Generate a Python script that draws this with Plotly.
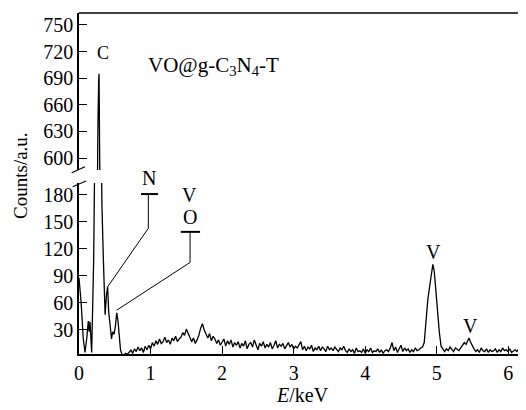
import plotly.graph_objects as go

# ---- data ----
ENERGY_KEV = [
    0.000, 0.030, 0.060, 0.084, 0.110, 0.130, 0.142, 0.154, 0.177,
    0.190, 0.205, 0.230, 0.250, 0.265, 0.275, 0.280, 0.290, 0.305, 0.320, 0.340, 0.355, 0.365,
    0.385, 0.400, 0.415, 0.435, 0.455, 0.470, 0.490, 0.510, 0.527, 0.545, 0.560, 0.580,
    0.600, 0.625, 0.650, 0.675, 0.700,
    0.725, 0.750, 0.775, 0.800, 0.825, 0.850, 0.875, 0.900, 0.925, 0.950, 0.975, 1.000,
    1.025, 1.050, 1.075, 1.100, 1.125, 1.150, 1.175, 1.200, 1.225, 1.250, 1.275, 1.300, 1.325, 1.350, 1.375, 1.400,
    1.425, 1.450, 1.475, 1.500, 1.525, 1.550, 1.575, 1.600, 1.625, 1.650, 1.675, 1.700, 1.725, 1.750,
    1.775, 1.800, 1.825, 1.850, 1.875, 1.900,
    1.925, 1.950, 1.975, 2.000, 2.025, 2.050, 2.075, 2.100, 2.125, 2.150, 2.175, 2.200,
    2.225, 2.250, 2.275, 2.300, 2.325, 2.350, 2.375, 2.400, 2.425, 2.450, 2.475, 2.500, 2.525, 2.550, 2.575,
    2.600, 2.625, 2.650, 2.675, 2.700, 2.725, 2.750, 2.775, 2.800, 2.825, 2.850, 2.875, 2.900, 2.925, 2.950,
    2.975, 3.000, 3.025, 3.050, 3.075, 3.100,
    3.125, 3.150, 3.175, 3.200, 3.225, 3.250, 3.275, 3.300, 3.325, 3.350, 3.375, 3.400,
    3.425, 3.450, 3.475, 3.500, 3.525, 3.550, 3.575, 3.600, 3.625, 3.650, 3.675, 3.700,
    3.725, 3.750, 3.775, 3.800, 3.825, 3.850, 3.875, 3.900, 3.925, 3.950, 3.975, 4.000,
    4.025, 4.050, 4.075, 4.100, 4.125, 4.150, 4.175, 4.200, 4.225, 4.250, 4.275,
    4.300, 4.325, 4.350, 4.375, 4.400, 4.425, 4.450, 4.475, 4.500, 4.525, 4.550, 4.575,
    4.600, 4.625, 4.650, 4.675, 4.700, 4.725, 4.750, 4.775,
    4.800, 4.825, 4.850, 4.875, 4.900, 4.925, 4.945, 4.965, 4.985, 5.010, 5.035, 5.060, 5.085,
    5.110, 5.135, 5.160, 5.185, 5.210, 5.235, 5.260, 5.285, 5.310, 5.335,
    5.360, 5.385, 5.410, 5.435, 5.450, 5.470, 5.495,
    5.520, 5.545, 5.570, 5.595, 5.620, 5.645, 5.670, 5.695, 5.720, 5.745, 5.770, 5.795, 5.820, 5.845, 5.870,
    5.895, 5.920, 5.945, 5.970, 5.995, 6.020, 6.045, 6.070, 6.095, 6.120, 6.145, 6.170, 6.195, 6.220, 6.245,
]
COUNTS = [
    88, 60, 20, 5, 22, 40, 28, 39, 5,
    60, 108, 300, 560, 640, 688, 695, 590, 300, 170, 110, 70, 47,
    70, 78, 50, 30, 20, 28, 25, 35, 49, 40, 25, 8,
    3, 2, 4, 3, 5,
    8, 4, 9, 6, 11, 7, 10, 5, 12, 8, 13, 9,
    16, 12, 18, 14, 20, 15, 17, 22, 16, 19, 14, 21, 18, 23, 17, 20,
    22, 27, 24, 31, 26, 20, 17, 21, 15, 19, 24, 32, 37, 30,
    25, 21, 26, 18, 23, 20,
    15, 19, 13, 17, 20, 12, 18, 14, 19, 11, 16, 13,
    17, 10, 15, 12, 18, 9, 14, 16, 11, 19, 13, 8, 15, 12, 17,
    10, 14, 11, 16, 9, 13, 18, 10, 14, 12, 15, 9, 13, 16, 11,
    14, 9, 12, 10, 13, 17,
    8, 12, 7, 11, 9, 13, 6, 10, 8, 12, 7, 11,
    9, 6, 12, 8, 10, 7, 11, 9, 6, 10, 8, 12,
    7, 5, 9, 6, 8, 4, 10, 6, 7, 5, 9, 4,
    8, 6, 10, 5, 7, 6, 9, 5, 8, 4, 7,
    8, 6, 10, 16, 7, 11, 5, 9, 13, 6, 10, 7,
    9, 5, 8, 6, 10, 7, 8, 10,
    11, 16, 45, 64, 78, 96, 103, 95, 72, 52, 28, 12, 9,
    6, 9, 7, 11, 8, 6, 10, 8, 7, 10,
    13, 16, 14, 19, 21, 17, 12,
    9, 6, 8, 5, 10, 7, 6, 9, 5, 8, 6, 7, 9, 5, 8,
    6, 10, 7, 8, 6, 9, 5, 7, 8, 6, 9, 7, 8, 10, 7,
]

X_TICKS = [0, 1, 2, 3, 4, 5, 6]
Y_TICKS_LOW = [30, 60, 90, 120, 150, 180]
Y_TICKS_HIGH = [600, 630, 660, 690, 720, 750]
X_RANGE = [0, 6.247]
Y_RANGE_LOW = [3.3, 193.3]
Y_RANGE_HIGH = [586.5, 763.5]

# peak labels in data coordinates: (text, energy, counts, panel, size)
PEAK_LABELS = [
    ("C", 0.336, 718, "high", 18),
    ("VO@g-C<sub>3</sub>N<sub>4</sub>-T", 1.881, 704, "high", 21),
    ("V", 4.958, 117, "low", 20),
    ("V", 5.468, 34, "low", 20),
]
# labels placed in paper coordinates (above the lower panel's range)
PAPER_LABELS = [
    ("N", 0.1577, 0.5161),
    ("V", 0.2461, 0.4663),
    ("O", 0.2483, 0.4003),
]
# leader lines (energy, counts) polylines in the lower panel
LEADER_N = [(0.969, 181), (0.969, 143), (0.401, 78)]
BAR_N = [(0.867, 181), (1.105, 181)]
LEADER_O = [(1.552, 139), (1.552, 105), (0.527, 52)]
BAR_O = [(1.422, 139), (1.692, 139)]

FONT = "Liberation Serif"
BLACK = "#000000"

fig = go.Figure()
for xa, ya in (("x", "y"), ("x2", "y2")):
    fig.add_trace(go.Scatter(
        x=ENERGY_KEV, y=COUNTS, mode="lines", xaxis=xa, yaxis=ya,
        line=dict(color=BLACK, width=1.3), showlegend=False, hoverinfo="skip",
    ))

for pts, w in ((LEADER_N, 1), (LEADER_O, 1), (BAR_N, 2), (BAR_O, 2)):
    fig.add_trace(go.Scatter(
        x=[p[0] for p in pts], y=[p[1] for p in pts], mode="lines", xaxis="x", yaxis="y",
        line=dict(color=BLACK, width=w), showlegend=False, hoverinfo="skip",
    ))

LOW_DOM = [0, 0.5015]
HIGH_DOM = [0.5396, 1]

axis_common = dict(
    showgrid=False, zeroline=False, showline=True, linecolor=BLACK, linewidth=1.5,
    ticks="inside", ticklen=8, tickwidth=1.2, tickcolor=BLACK, automargin=False,
    tickfont=dict(family=FONT, size=20, color=BLACK),
)
# the page body adds an 8px offset, so the figure is 8px smaller on each side
fig.update_layout(
    width=518, height=402,
    margin=dict(l=71, r=0, t=5, b=56),
    paper_bgcolor="white", plot_bgcolor="white",
    xaxis=dict(axis_common, range=X_RANGE, tickvals=X_TICKS, anchor="y"),
    xaxis2=dict(range=X_RANGE, anchor="y2", matches="x", visible=False),
    yaxis=dict(axis_common, range=Y_RANGE_LOW, tickvals=Y_TICKS_LOW, domain=LOW_DOM, anchor="x"),
    yaxis2=dict(axis_common, range=Y_RANGE_HIGH, tickvals=Y_TICKS_HIGH, domain=HIGH_DOM, anchor="x2"),
)

anns = []
for text, ex, cy, panel, size in PEAK_LABELS:
    anns.append(dict(
        text=text, x=ex, y=cy, xref="x" if panel == "low" else "x2",
        yref="y" if panel == "low" else "y2", showarrow=False,
        font=dict(family=FONT, size=size, color=BLACK),
        xanchor="center", yanchor="middle",
    ))
for text, px, py in PAPER_LABELS:
    anns.append(dict(
        text=text, x=px, y=py, xref="paper", yref="paper", showarrow=False,
        font=dict(family=FONT, size=20, color=BLACK), xanchor="center", yanchor="middle",
    ))
anns.append(dict(
    text="Counts/a.u.", x=-0.1298, y=0.525, xref="paper", yref="paper",
    showarrow=False, textangle=-90, font=dict(family=FONT, size=19, color=BLACK),
    xanchor="center", yanchor="middle",
))
anns.append(dict(
    text="<i>E</i>/keV", x=0.5, y=-0.1202, xref="paper", yref="paper",
    showarrow=False, font=dict(family=FONT, size=20, color=BLACK),
    xanchor="center", yanchor="middle",
))
fig.update_layout(annotations=anns)

shapes = [
    dict(type="line", xref="paper", yref="paper", x0=0, x1=1, y0=1, y1=1,
         line=dict(color=BLACK, width=1.5)),
    dict(type="line", xref="paper", yref="paper", x0=-0.0163, x1=0.0134, y0=0.5317, y1=0.5493,
         line=dict(color=BLACK, width=1.2)),
    dict(type="line", xref="paper", yref="paper", x0=-0.0141, x1=0.0157, y0=0.4906, y1=0.5073,
         line=dict(color=BLACK, width=1.2)),
]
fig.update_layout(shapes=shapes)

fig.write_html("out.html")
